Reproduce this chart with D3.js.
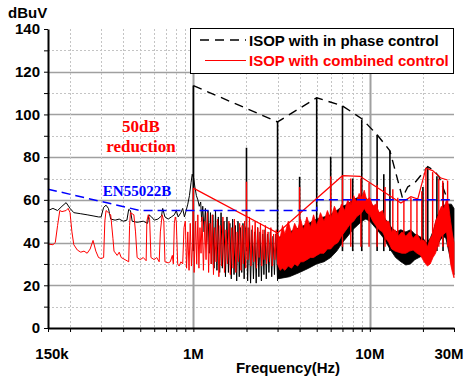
<!DOCTYPE html>
<html lang="en">
<head>
<meta charset="UTF-8">
<title>EMI spectrum</title>
<script src="https://d3js.org/d3.v7.min.js"></script>
<style>
    body { margin: 0; background: #fff; }
</style>
</head>
<body>
<div id="chart"></div>
<script>
// ---- data (frequency in MHz, level in dBuV) ----

// EN55022B limit
var limitF = [0.15, 0.5, 5, 5, 30];
var limitV = [65, 55, 55, 60, 60];

// envelopes
var envBlackF = [1, 3, 5, 7, 9, 11, 13, 15.3, 16.4, 18.2, 21.3, 22.9, 24.6, 27.6];
var envBlackV = [113.5, 96.5, 107.8, 104, 98, 90.5, 83, 61, 66, 68.5, 75.5, 74, 71, 60];
var envRedF = [1, 3, 7, 8.8, 15, 17.1, 18.7, 20.8, 22.7, 25.3, 27.6];
var envRedV = [65.5, 44.5, 71.3, 71, 58.5, 61.5, 60.4, 74.8, 73.7, 70.2, 69.3];

// in phase control trace, 150k - 3M
var blackTrace = [
    [0.15, 55], [0.16, 56], [0.17, 55], [0.18, 57], [0.19, 58.7], [0.2, 56], [0.21, 54], [0.23, 53.5],
    [0.25, 53], [0.27, 52.5], [0.29, 52], [0.3, 52], [0.31, 56.5], [0.32, 57.5], [0.33, 56], [0.34, 51],
    [0.36, 50.5], [0.38, 51], [0.4, 50], [0.42, 50.5], [0.43, 55.5], [0.44, 55], [0.45, 50], [0.48, 49.5],
    [0.52, 50], [0.55, 49], [0.56, 53], [0.58, 52], [0.6, 50.5], [0.63, 51], [0.66, 52.5], [0.67, 56],
    [0.69, 52], [0.72, 51], [0.75, 52], [0.78, 53], [0.8, 55], [0.82, 52], [0.85, 54], [0.87, 56],
    [0.89, 52], [0.91, 55], [0.93, 58], [0.95, 62], [0.97, 68], [0.985, 72], [1.005, 70], [1.02, 66],
    [1.04, 62], [1.06, 60], [1.08, 57], [1.1, 59], [1.115, 50], [1.13, 57], [1.15, 45], [1.17, 56],
    [1.19, 40], [1.21, 55], [1.23, 35], [1.25, 54], [1.27, 30], [1.29, 53], [1.31, 28], [1.335, 55],
    [1.36, 27], [1.385, 52], [1.41, 26], [1.435, 54], [1.46, 28], [1.49, 50], [1.52, 24], [1.55, 52],
    [1.58, 26], [1.61, 49], [1.64, 23], [1.67, 51], [1.7, 25], [1.73, 48], [1.76, 22], [1.79, 50],
    [1.82, 24], [1.85, 47], [1.88, 26], [1.91, 49], [1.94, 23], [1.97, 46], [2.0, 48], [2.03, 22],
    [2.07, 47], [2.11, 21], [2.15, 46], [2.19, 23], [2.23, 45], [2.27, 21], [2.31, 47], [2.35, 24],
    [2.39, 45], [2.43, 22], [2.47, 44], [2.51, 25], [2.55, 46], [2.59, 23], [2.63, 44], [2.68, 26],
    [2.73, 45], [2.78, 24], [2.83, 43], [2.88, 25], [2.94, 44], [3.0, 22]
];

// combined control trace, 150k - 3M
var redTrace = [
    [0.15, 39.3], [0.16, 39], [0.165, 40], [0.17, 48], [0.175, 55], [0.18, 54.5], [0.19, 55], [0.195, 56],
    [0.2, 54], [0.205, 45], [0.21, 39], [0.22, 36.5], [0.23, 35.5], [0.24, 36], [0.25, 35], [0.26, 37],
    [0.27, 41], [0.28, 36], [0.29, 33], [0.3, 32.5], [0.31, 33], [0.315, 50], [0.32, 55], [0.33, 54],
    [0.34, 53], [0.35, 42], [0.355, 36], [0.37, 34], [0.38, 35.5], [0.39, 33], [0.41, 32], [0.43, 31],
    [0.435, 48], [0.44, 54], [0.46, 53], [0.47, 45], [0.48, 33], [0.5, 32], [0.52, 33], [0.54, 31.5],
    [0.545, 50], [0.555, 53], [0.565, 51], [0.575, 33], [0.6, 32], [0.62, 33], [0.64, 31], [0.65, 45],
    [0.665, 53], [0.68, 50], [0.69, 31], [0.72, 30.5], [0.74, 31], [0.76, 34], [0.77, 30], [0.78, 49],
    [0.79, 52], [0.8, 50], [0.815, 30], [0.83, 29], [0.85, 31], [0.87, 30], [0.885, 47], [0.9, 50],
    [0.915, 28], [0.93, 45], [0.945, 27], [0.96, 49], [0.975, 29], [0.99, 40], [1.0, 65.5], [1.01, 26],
    [1.03, 50], [1.045, 30], [1.06, 53], [1.075, 28], [1.09, 47], [1.105, 35], [1.12, 52], [1.14, 27],
    [1.16, 50], [1.18, 32], [1.2, 54], [1.22, 26], [1.24, 49], [1.26, 30], [1.28, 53], [1.3, 25],
    [1.32, 47], [1.345, 31], [1.37, 51], [1.395, 24], [1.42, 48], [1.445, 29], [1.47, 52], [1.5, 26],
    [1.53, 46], [1.56, 30], [1.59, 50], [1.62, 25], [1.65, 47], [1.68, 28], [1.71, 51], [1.74, 26],
    [1.77, 45], [1.8, 31], [1.83, 49], [1.86, 27], [1.89, 48], [1.92, 30], [1.95, 50], [1.98, 28],
    [2.01, 47], [2.04, 32], [2.08, 52], [2.12, 29], [2.16, 48], [2.2, 31], [2.24, 50], [2.28, 28],
    [2.32, 47], [2.36, 33], [2.4, 49], [2.44, 29], [2.48, 46], [2.52, 32], [2.56, 48], [2.6, 30],
    [2.65, 45], [2.7, 31], [2.75, 47], [2.8, 29], [2.85, 44], [2.9, 32], [2.95, 46], [3.0, 30]
];

// dense part 3M - 30M, read as lower / upper edge
var blackBandF  = [3, 3.5, 4, 4.5, 5, 5.5, 6, 6.5, 7, 7.5, 8, 8.5, 9, 9.5, 10, 11, 12, 13, 14, 15, 16, 17, 18, 19, 20, 21, 22, 23, 24, 25, 26, 27, 28, 29, 30];
var blackBandLo = [23, 24, 26, 28, 30, 31, 33, 36, 40, 43, 46, 48, 50, 51, 50, 46, 42, 37, 33, 31, 29.5, 30, 32, 33, 34, 33, 33, 36, 38, 41, 43, 42, 36, 30, 25];
var blackBandHi = [42, 45, 47, 49, 51, 52, 53, 55, 57, 58, 60, 61, 61, 61, 59, 55, 52, 48, 45, 46, 45, 46, 44, 43, 42, 40, 42, 46, 52, 55, 57, 58, 58, 58, 56];

var redBandF  = [3, 3.1, 3.2, 3.3, 3.45, 3.6, 3.75, 3.9, 4.05, 4.2, 4.4, 4.6, 4.8, 5, 5.25, 5.5, 5.75, 6, 6.3, 6.6,
                 6.9, 7.2, 7.5, 7.8, 8.1, 8.4, 8.7, 9, 9.3, 9.6, 10, 10.4, 10.8, 11.3, 11.8, 12.3, 12.8, 13.3, 13.9, 14.5,
                 15.2, 16, 16.8, 17.6, 18.5, 19.4, 20.3, 21.2, 22, 22.8, 23.6, 24.5, 25.4, 26.3, 27.2, 28, 28.7, 29.4, 30];
var redBandHi = [44, 42, 48, 44, 50, 44, 49, 46, 51, 46, 52, 47, 53, 48, 54, 50, 55, 51, 57, 53,
                 58, 55, 60, 57, 62, 59, 63, 61, 64.5, 60, 61, 57, 58, 54, 55, 50, 50, 45, 46, 43,
                 45, 43, 45, 42, 44, 41, 41, 38, 42, 44, 50, 53, 57, 56, 60, 57, 50, 44, 40];
var redBandLo = [30, 27, 28, 27, 29, 28, 30, 29, 31, 31, 32, 33, 33, 34, 35, 35, 37, 37, 39, 40,
                 43, 45, 47, 49, 50, 52, 53, 54, 56, 54, 53, 50, 48, 46, 45, 42, 40, 37, 36, 35.5,
                 35, 35, 36, 36.5, 35, 34, 31, 29, 30, 33, 35, 40, 43, 44, 45, 38, 30, 26, 23.5];

// harmonic spikes
var blackSpikeF   = [1, 2, 3, 4, 5, 6, 7, 8, 9, 11, 12, 13, 20, 21.3, 24, 26];
var blackSpikeTop = [113.5, 84.4, 96.5, 70.8, 107.8, 80.2, 104, 70, 97.5, 90.5, 72, 83, 66, 75, 71, 68];
var redSpikeF   = [2, 4, 6, 7, 7.8, 8.9, 9.9, 11, 12.2, 13.5, 14.4, 15.6, 17.1, 18.5, 19.7, 20.8, 22.7, 24.6, 25.9, 27.6];
var redSpikeTop = [68.5, 66, 71, 71, 70, 70, 68, 67, 66, 65, 61, 60, 61, 60, 64, 74, 73, 70, 69, 69];

// axes
var yTicks = d3.range(0, 141, 10);
var yLabels = [0, 20, 40, 60, 80, 100, 120, 140];
var xTicks = [0.15, 0.2, 0.3, 0.4, 0.5, 0.6, 0.7, 0.8, 0.9, 1, 2, 3, 4, 5, 6, 7, 8, 9, 10, 20, 30];
var xLabelV = [0.15, 1, 10, 30];
var xLabelT = ["150k", "1M", "10M", "30M"];
var seriesNames = ["ISOP with in phase control", "ISOP with combined control"];

// ---- chart ----
var svgW = 464, svgH = 380;
var plotLeft = 48, plotRight = 454, plotTop = 29, plotBottom = 328;
var sans = "Arial, 'Liberation Sans', sans-serif";
var serif = "'Times New Roman', 'Liberation Serif', serif";

var svg = d3.select("#chart").append("svg")
    .attr("width", svgW)
    .attr("height", svgH)
    .attr("font-family", sans);

var x = d3.scaleLog().domain([0.15, 30]).range([plotLeft, plotRight]);
var y = d3.scaleLinear().domain([0, 140]).range([plotBottom, plotTop]);

// grid
var grid = svg.append("g");
grid.selectAll(".hg")
    .data(yTicks.filter(function(v){ return v > 0 && v < 140; }))
    .enter().append("line")
    .attr("x1", plotLeft).attr("x2", plotRight)
    .attr("y1", function(d){ return Math.round(y(d)) + 0.5; })
    .attr("y2", function(d){ return Math.round(y(d)) + 0.5; })
    .attr("stroke", function(d){ return d % 20 == 0 ? "#a0a0a0" : "#c4c4c4"; })
    .attr("stroke-width", function(d){ return d % 20 == 0 ? 1.5 : 1; })
    .attr("stroke-dasharray", function(d){ return d % 20 == 0 ? null : "2,2"; });

grid.selectAll(".vg")
    .data(xTicks.filter(function(v){ return v > 0.15 && v < 30; }))
    .enter().append("line")
    .attr("y1", plotTop).attr("y2", plotBottom)
    .attr("x1", function(d){ return Math.round(x(d)) + 0.5; })
    .attr("x2", function(d){ return Math.round(x(d)) + 0.5; })
    .attr("stroke", function(d){ return (d == 1 || d == 10) ? "#a0a0a0" : "#c4c4c4"; })
    .attr("stroke-width", function(d){ return (d == 1 || d == 10) ? 2 : 1; })
    .attr("stroke-dasharray", function(d){ return (d == 1 || d == 10) ? null : "2,2"; });

var line = d3.line()
    .x(function(d){ return x(d[0]); })
    .y(function(d){ return y(d[1]); });

var band = d3.area()
    .x(function(d){ return x(d[0]); })
    .y0(function(d){ return y(d[1]); })
    .y1(function(d){ return y(d[2]); });

// black series
svg.selectAll(".bspike")
    .data(blackSpikeF.map(function(f, i){ return [f, blackSpikeTop[i]]; }))
    .enter().append("line")
    .attr("x1", function(d){ return x(d[0]); })
    .attr("x2", function(d){ return x(d[0]); })
    .attr("y1", y(36))
    .attr("y2", function(d){ return y(d[1]); })
    .attr("stroke", "black")
    .attr("stroke-width", 1.6);

svg.append("path")
    .datum(blackBandF.map(function(f, i){ return [f, blackBandLo[i], blackBandHi[i]]; }))
    .attr("d", band)
    .attr("fill", "black")
    .attr("stroke", "black")
    .attr("stroke-width", 0.8);

svg.append("path")
    .datum(blackTrace)
    .attr("d", line)
    .attr("fill", "none")
    .attr("stroke", "black")
    .attr("stroke-width", 1);

svg.append("path")
    .datum(envBlackF.map(function(f, i){ return [f, envBlackV[i]]; }))
    .attr("d", line)
    .attr("fill", "none")
    .attr("stroke", "black")
    .attr("stroke-width", 1.4)
    .attr("stroke-dasharray", "9,6");

// red series
svg.append("path")
    .datum(redTrace)
    .attr("d", line)
    .attr("fill", "none")
    .attr("stroke", "red")
    .attr("stroke-width", 1);

svg.append("path")
    .datum(redBandF.map(function(f, i){ return [f, redBandLo[i], redBandHi[i]]; }))
    .attr("d", band)
    .attr("fill", "red")
    .attr("stroke", "red")
    .attr("stroke-width", 0.8);

svg.selectAll(".rspike")
    .data(redSpikeF.map(function(f, i){ return [f, redSpikeTop[i]]; }))
    .enter().append("line")
    .attr("x1", function(d){ return x(d[0]); })
    .attr("x2", function(d){ return x(d[0]); })
    .attr("y1", y(38))
    .attr("y2", function(d){ return y(d[1]); })
    .attr("stroke", "red")
    .attr("stroke-width", 1.4);

svg.append("path")
    .datum(envRedF.map(function(f, i){ return [f, envRedV[i]]; }))
    .attr("d", line)
    .attr("fill", "none")
    .attr("stroke", "red")
    .attr("stroke-width", 1.2);

// limit line
svg.append("path")
    .datum(limitF.map(function(f, i){ return [f, limitV[i]]; }))
    .attr("d", line)
    .attr("fill", "none")
    .attr("stroke", "#0000ff")
    .attr("stroke-width", 1.5)
    .attr("stroke-dasharray", "9,5");

// axes
var yAxis = d3.axisLeft(y)
    .tickValues(yTicks)
    .tickSize(4)
    .tickSizeOuter(0)
    .tickPadding(4)
    .tickFormat(function(d){ return yLabels.indexOf(d) >= 0 ? d : ""; });

svg.append("g")
    .attr("transform", "translate(" + plotLeft + ",0)")
    .call(yAxis)
    .call(function(g){
        g.select(".domain").attr("stroke", "black").attr("stroke-width", 2);
        g.selectAll("line").attr("stroke", "black");
        g.selectAll("text")
            .attr("font-size", "15px")
            .attr("font-weight", "bold")
            .attr("font-family", sans)
            .attr("fill", "black");
    });

var xAxis = d3.axisBottom(x)
    .tickValues(xTicks)
    .tickSize(4)
    .tickSizeOuter(0)
    .tickFormat("");

svg.append("g")
    .attr("transform", "translate(0," + plotBottom + ")")
    .call(xAxis)
    .call(function(g){
        g.select(".domain").attr("stroke", "black").attr("stroke-width", 2);
        g.selectAll("line").attr("stroke", "black");
    });

svg.selectAll(".xlab")
    .data(xLabelV)
    .enter().append("text")
    .attr("x", function(d){ return Math.min(Math.max(x(d), 52), 449); })
    .attr("y", 359)
    .attr("text-anchor", "middle")
    .attr("font-size", "15px")
    .attr("font-weight", "bold")
    .text(function(d, i){ return xLabelT[i]; });

svg.append("text")
    .attr("x", 288).attr("y", 373)
    .attr("text-anchor", "middle")
    .attr("font-size", "15px")
    .attr("font-weight", "bold")
    .text("Frequency(Hz)");

svg.append("text")
    .attr("x", 8).attr("y", 18)
    .attr("font-size", "15px")
    .attr("font-weight", "bold")
    .text("dBuV");

// annotations
svg.append("text")
    .attr("x", 141).attr("y", 132)
    .attr("text-anchor", "middle")
    .attr("font-family", serif)
    .attr("font-size", "17px")
    .attr("font-weight", "bold")
    .attr("fill", "red")
    .text("50dB");
svg.append("text")
    .attr("x", 141).attr("y", 152)
    .attr("text-anchor", "middle")
    .attr("font-family", serif)
    .attr("font-size", "17px")
    .attr("font-weight", "bold")
    .attr("fill", "red")
    .text("reduction");
svg.append("text")
    .attr("x", 137).attr("y", 196)
    .attr("text-anchor", "middle")
    .attr("font-family", serif)
    .attr("font-size", "15px")
    .attr("font-weight", "bold")
    .attr("fill", "#0000ff")
    .text("EN55022B");

// legend
var legend = svg.append("g");
legend.append("rect")
    .attr("x", 190.5).attr("y", 28.5)
    .attr("width", 263).attr("height", 45)
    .attr("fill", "white")
    .attr("stroke", "black")
    .attr("stroke-width", 1);
legend.append("line")
    .attr("x1", 200).attr("x2", 246)
    .attr("y1", 40).attr("y2", 40)
    .attr("stroke", "black")
    .attr("stroke-width", 1.4)
    .attr("stroke-dasharray", "9,6");
legend.append("line")
    .attr("x1", 205).attr("x2", 246)
    .attr("y1", 60.5).attr("y2", 60.5)
    .attr("stroke", "red")
    .attr("stroke-width", 1.2);
legend.selectAll(".ltext")
    .data(seriesNames)
    .enter().append("text")
    .attr("x", 249)
    .attr("y", function(d, i){ return 45.5 + i * 20.5; })
    .attr("font-size", "15px")
    .attr("font-weight", "bold")
    .attr("fill", function(d, i){ return i == 0 ? "black" : "red"; })
    .text(function(d){ return d; });
</script>
</body>
</html>
